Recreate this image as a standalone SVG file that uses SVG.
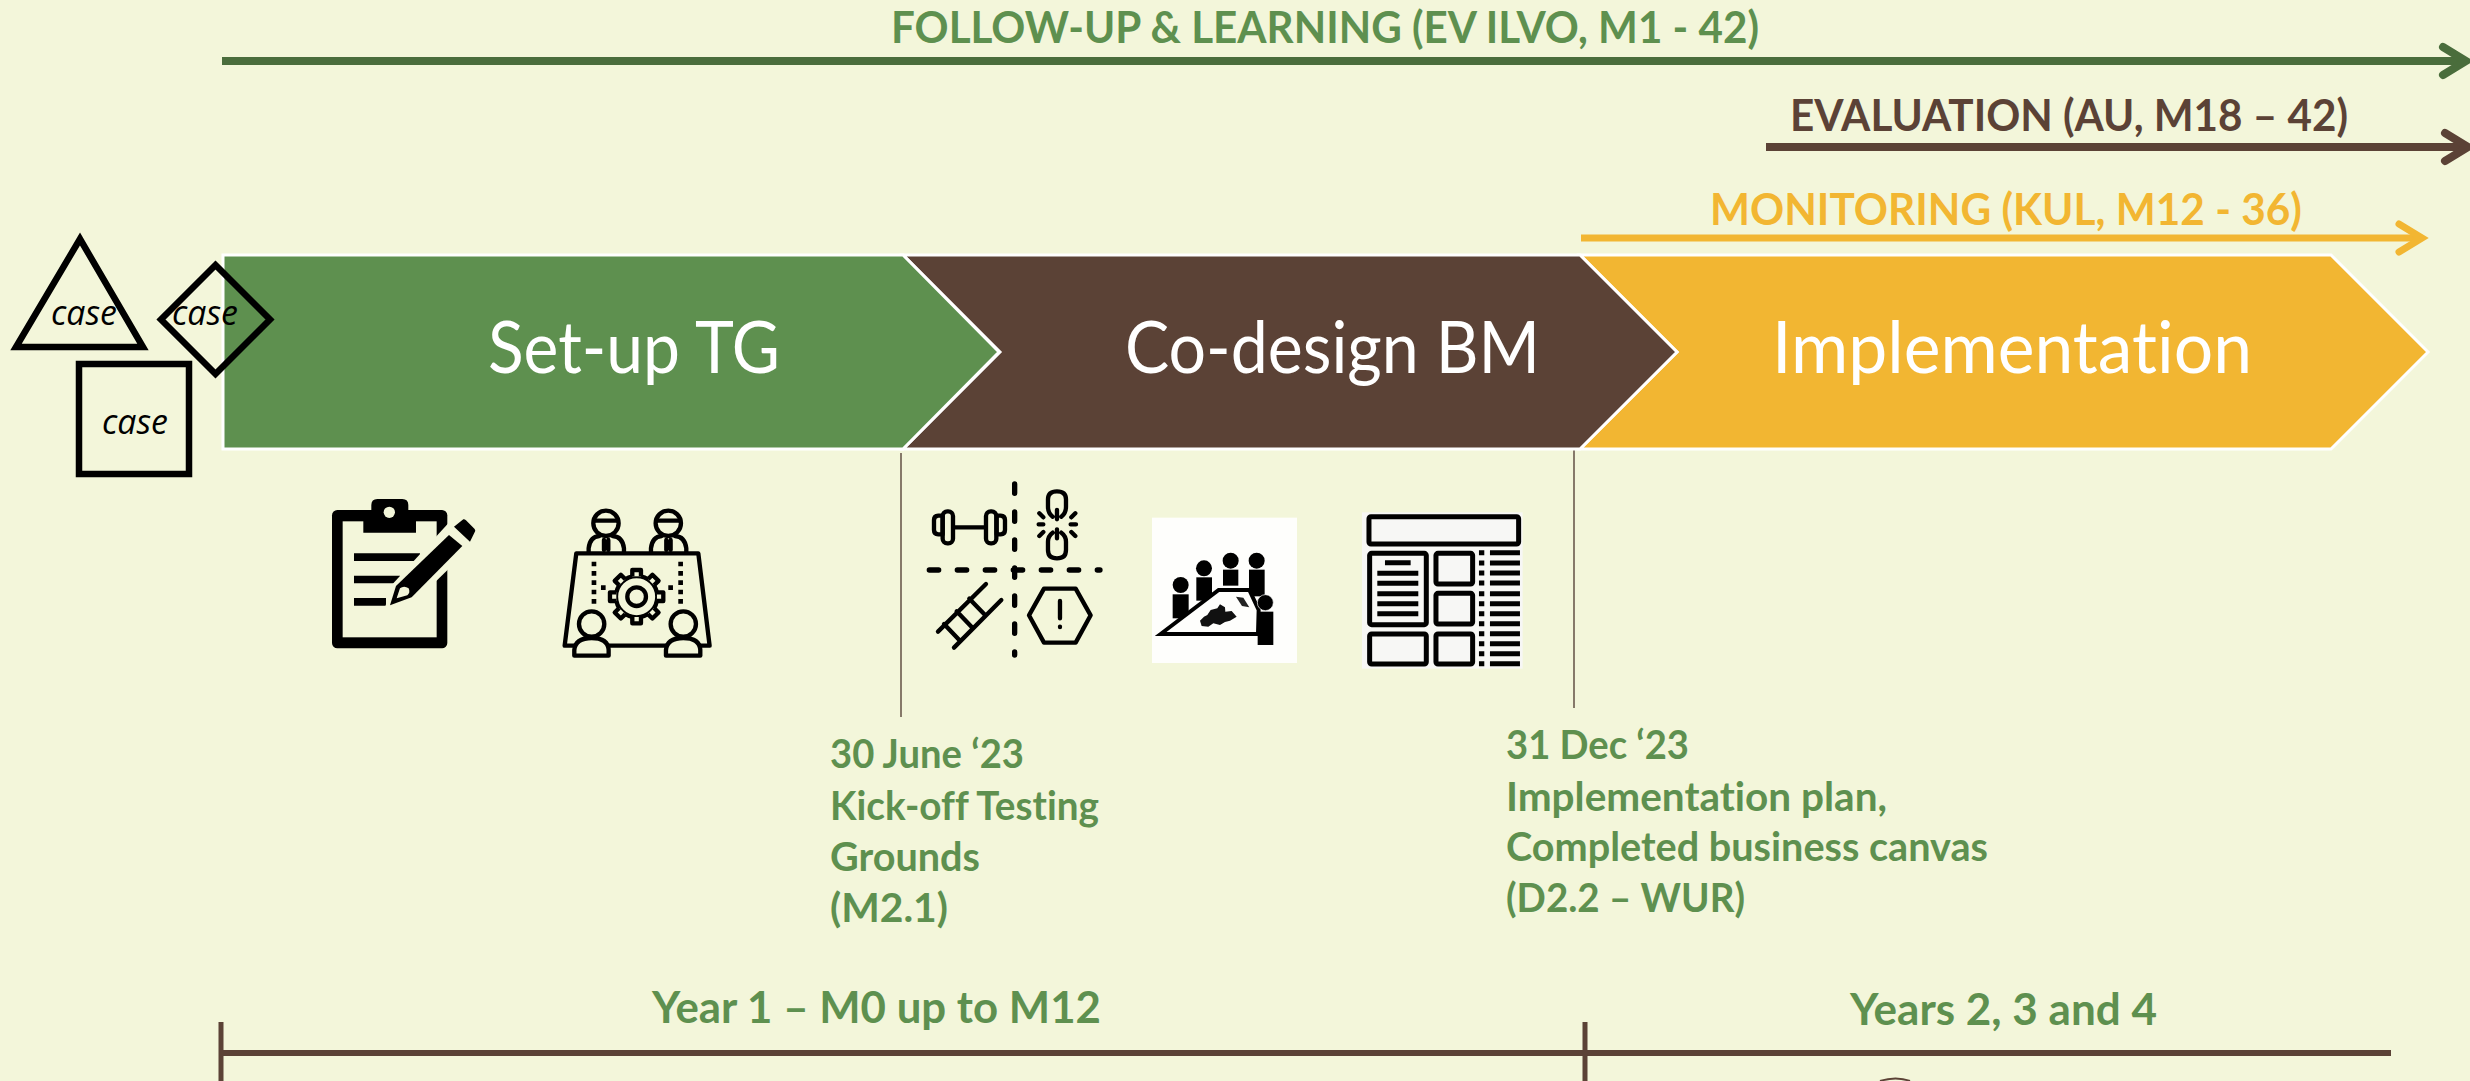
<svg xmlns="http://www.w3.org/2000/svg" xmlns:xlink="http://www.w3.org/1999/xlink" width="2470" height="1081" viewBox="0 0 2470 1081">
<style>
text{font-family:Lato,"Liberation Sans",sans-serif;font-variant-ligatures:none}
.b{font-weight:700;font-size:44px}
.g{fill:#5E904F}
.d{font-weight:700;font-size:40px;fill:#5E904F}
.c{font-size:72px;fill:#fff}
.k{font-family:"Open Sans","Liberation Sans",sans-serif;font-style:italic;font-size:34px;fill:#000}
.s{fill:none;stroke:#000;stroke-width:6.500}
.chev{stroke:#fff;stroke-width:3}
.ln{fill:none;stroke:#000;stroke-width:13;stroke-linecap:round;stroke-linejoin:round}
.bgf{fill:#F3F6DA}
.hd{fill:none;stroke-linecap:round;stroke-linejoin:miter}
</style>
<defs>
<marker id="hG" markerUnits="userSpaceOnUse" viewBox="0 0 40 40" markerWidth="40" markerHeight="40" refX="28" refY="20" orient="auto" overflow="visible"><path class="hd" d="M5,6 L28,20 L5,34" stroke="#4A6D3C" stroke-width="8"/></marker>
<marker id="hB" markerUnits="userSpaceOnUse" viewBox="0 0 40 40" markerWidth="40" markerHeight="40" refX="28" refY="20" orient="auto" overflow="visible"><path class="hd" d="M5,6 L28,20 L5,34" stroke="#5B4236" stroke-width="8"/></marker>
<marker id="hY" markerUnits="userSpaceOnUse" viewBox="0 0 40 40" markerWidth="40" markerHeight="40" refX="28" refY="20" orient="auto" overflow="visible"><path class="hd" d="M5,6 L28,20 L5,34" stroke="#F2B632" stroke-width="7"/></marker>
<path id="tooth" d="M-13,-61 L-13,-80 H13 V-61" fill="#F3F6DA" stroke="#000" stroke-width="13" stroke-linejoin="round"/>
</defs>
<rect width="2470" height="1081" fill="#F3F6DA"/>

<g id="connectors">
<path d="M222,61H2466" fill="none" stroke="#4A6D3C" stroke-width="8" marker-end="url(#hG)"/>
<path d="M1766,147H2468" fill="none" stroke="#5B4236" stroke-width="8" marker-end="url(#hB)"/>
<path d="M1581,238H2422" fill="none" stroke="#F2B632" stroke-width="7" marker-end="url(#hY)"/>
<path d="M901,453V717M1574,447V708" fill="none" stroke="#6B5A4E" stroke-width="1.6"/>
<path d="M220,1053H2391" fill="none" stroke="#5B4236" stroke-width="6"/>
<path d="M221,1022V1081M1585,1022V1081" fill="none" stroke="#5B4236" stroke-width="5"/>
<path d="M1880,1081Q1896,1076 1910,1081" fill="none" stroke="#5B4236" stroke-width="2"/>
</g>

<g id="node-implementation">
<path class="chev" fill="#F2B632" d="M1580,255H2331L2428,352L2331,449H1580L1677,352Z"/>
<text class="c" x="1772" y="373" textLength="480" lengthAdjust="spacingAndGlyphs">Implementation</text>
</g>
<g id="node-codesign">
<path class="chev" fill="#5B4236" d="M903,255H1580L1677,352L1580,449H903L1000,352Z"/>
<text class="c" x="1125" y="373" textLength="415" lengthAdjust="spacingAndGlyphs">Co-design BM</text>
</g>
<g id="node-setup">
<path class="chev" fill="#5E904F" d="M223,255H903L999,352L903,449H223Z"/>
<text class="c" x="488" y="373" textLength="292" lengthAdjust="spacingAndGlyphs">Set-up TG</text>
</g>

<g id="label-follow-up"><text class="b g" x="891" y="43" textLength="868" lengthAdjust="spacingAndGlyphs">FOLLOW-UP &amp; LEARNING (EV ILVO, M1 - 42)</text></g>
<g id="label-evaluation"><text class="b" fill="#5B4236" x="1790" y="131" textLength="558" lengthAdjust="spacingAndGlyphs">EVALUATION (AU, M18 – 42)</text></g>
<g id="label-monitoring"><text class="b" fill="#F2B632" x="1710" y="225" textLength="592" lengthAdjust="spacingAndGlyphs">MONITORING (KUL, M12 - 36)</text></g>

<g id="node-case-triangle">
<path class="s" d="M80,239L16,347H143Z" stroke-linejoin="miter"/>
<text class="k" x="51" y="325" textLength="66" lengthAdjust="spacingAndGlyphs">case</text>
</g>
<g id="node-case-diamond">
<path class="s" d="M215.500,265L270,319.500L215.500,374L161,319.500Z"/>
<text class="k" x="172" y="325" textLength="66" lengthAdjust="spacingAndGlyphs">case</text>
</g>
<g id="node-case-square">
<rect class="s" x="79" y="364" width="110" height="110"/>
<text class="k" x="102" y="434" textLength="66" lengthAdjust="spacingAndGlyphs">case</text>
</g>

<g id="icon-clipboard" transform="translate(300,480) scale(.3333)">
<rect x="96" y="90" width="346" height="415" rx="16" fill="#000"/>
<rect x="128" y="124" width="282" height="348" class="bgf"/>
<path d="M190,90H214V75Q214,57 232,57H307Q325,57 325,75V90H348V158H190Z" fill="#000"/>
<circle cx="268" cy="97" r="17" class="bgf"/>
<path d="M162,220H360V243H162ZM162,287H300V310H162ZM162,354H258V377H162Z" fill="#000"/>
<path class="bgf" d="M254,385L280,310L445,130V268L348,362Z"/>
<path d="M270,376L288,318L447,165L487,198L335,352Z" fill="#000"/>
<path d="M490,118Q494,117 498,121L524,147Q528,152 524,157L510,185L462,140Z" fill="#000"/>
<path d="M290,355L300,325Q312,316 326,325Q332,338 322,346Z" class="bgf"/>
</g>

<g id="icon-meeting" transform="translate(300,480) scale(.3333)">
<path class="ln" d="M829,220H1195L1229,497H794Z"/>
<circle class="ln" cx="918" cy="130" r="38"/><circle class="ln" cx="1105" cy="130" r="38"/>
<path class="ln" d="M885,122H950M1072,122H1137M866,215V205Q870,170 898,168M972,215V205Q968,170 938,168M1053,215V205Q1057,170 1085,168M1159,215V205Q1155,170 1125,168M912,180V210M925,180V210M1099,180V210M1112,180V210"/>
<path d="M882,245V375M1142,245V375M903,323H918M1105,323H1120" fill="none" stroke="#000" stroke-width="14" stroke-dasharray="14 14"/>
<g transform="translate(1010,350)">
<circle r="62" fill="#F3F6DA" stroke="#000" stroke-width="13"/>
<use xlink:href="#tooth" href="#tooth"/><use xlink:href="#tooth" href="#tooth" transform="rotate(45)"/><use xlink:href="#tooth" href="#tooth" transform="rotate(90)"/><use xlink:href="#tooth" href="#tooth" transform="rotate(135)"/><use xlink:href="#tooth" href="#tooth" transform="rotate(180)"/><use xlink:href="#tooth" href="#tooth" transform="rotate(225)"/><use xlink:href="#tooth" href="#tooth" transform="rotate(270)"/><use xlink:href="#tooth" href="#tooth" transform="rotate(315)"/>
<circle r="28" fill="none" stroke="#000" stroke-width="13"/>
</g>
<circle class="ln" cx="875" cy="432" r="38" style="fill:#F3F6DA"/><circle class="ln" cx="1150" cy="432" r="38" style="fill:#F3F6DA"/>
<path class="ln" style="fill:#F3F6DA" d="M823,527V510Q826,474 875,474Q924,474 926,510V527Z"/>
<path class="ln" style="fill:#F3F6DA" d="M1098,527V510Q1101,474 1150,474Q1199,474 1201,510V527Z"/>
</g>

<g id="icon-swot" transform="translate(900,470) scale(.3333)">
<path d="M344,42V555M88,300H600" fill="none" stroke="#000" stroke-width="16" stroke-linecap="round" stroke-dasharray="28 56"/>
<path class="ln" d="M160,172H256M102,150Q102,138 115,137H128V193H115Q102,192 102,180ZM315,150Q315,138 302,137H290V193H302Q315,192 315,180Z"/>
<rect class="ln" x="128" y="124" width="31" height="96" rx="14"/><rect class="ln" x="258" y="124" width="31" height="96" rx="14"/>
<path class="ln" d="M458,140Q444,130 444,110V88Q444,64 471,64Q498,64 498,88V110Q498,130 484,140M471,120V148M458,188Q444,198 444,215V240Q444,265 471,265Q498,265 498,240V215Q498,198 484,188M471,178V205M416,163H430M512,163H528M418,130L430,142M526,130L514,142M418,198L430,186M526,198L514,186"/>
<path class="ln" d="M114,485L258,342M162,533L304,390M132,462L180,512M170,424L218,474M208,386L256,436"/>
<path class="ln" d="M387,436L432,356H527L572,436L527,518H432Z"/>
<path class="ln" d="M480,393V445M480,470V471"/>
</g>

<g id="icon-puzzle" transform="translate(1130,500) scale(.3333)">
<rect x="66" y="53" width="435" height="436" fill="#FEFEFC"/>
<circle cx="152" cy="255" r="24"/><rect x="128" y="283" width="48" height="72"/>
<circle cx="222" cy="205" r="24"/><rect x="199" y="232" width="47" height="70"/>
<circle cx="302" cy="182" r="24"/><rect x="279" y="209" width="46" height="48"/>
<circle cx="380" cy="182" r="24"/><rect x="357" y="209" width="47" height="80"/>
<path d="M92,402L266,270H358L386,330L384,402Z" fill="#FEFEFC" stroke="#000" stroke-width="12" stroke-linejoin="miter"/>
<path d="M318,290L340,293L358,322L336,318Z" fill="#222"/>
<path d="M210,362L222,350L232,345L242,330L262,325L270,313L285,322L286,335L305,333L320,350L300,362L285,366L270,375L250,370L235,380L215,378Z" fill="#111"/>
<circle cx="406" cy="308" r="24" stroke="#FEFEFC" stroke-width="2"/><rect x="383" y="335" width="47" height="100"/>
</g>

<g id="icon-canvas" transform="translate(1130,500) scale(.3333)">
<rect x="696" y="37" width="482" height="469" fill="#F7F7F5"/>
<g fill="none" stroke="#000" stroke-width="15">
<rect x="717" y="50" width="449" height="82" rx="6"/>
<rect x="719" y="160" width="170" height="214" rx="6"/>
<rect x="918" y="160" width="110" height="92" rx="6"/>
<rect x="918" y="280" width="110" height="92" rx="6"/>
<rect x="719" y="402" width="170" height="90" rx="6"/>
<rect x="918" y="402" width="110" height="90" rx="6"/>
<path stroke-width="15" d="M765,188H842M742,220H865M742,250H865M742,281H865M742,311H865M742,341H865"/>
<path stroke-width="15" d="M1080,158H1170M1080,189H1170M1080,219H1170M1080,249H1170M1080,281H1170M1080,311H1170M1080,341H1170M1080,371H1170M1080,401H1170M1080,431H1170M1080,461H1170M1080,491H1170"/>
<path stroke-width="15" d="M1047,158H1063M1047,189H1063M1047,219H1063M1047,249H1063M1047,281H1063M1047,311H1063M1047,341H1063M1047,371H1063M1047,401H1063M1047,431H1063M1047,461H1063M1047,491H1063"/>
</g>
</g>

<g id="label-m21">
<text class="d" x="830" y="768" textLength="194" lengthAdjust="spacingAndGlyphs">30 June ‘23</text>
<text class="d" x="830" y="820" textLength="269" lengthAdjust="spacingAndGlyphs">Kick-off Testing</text>
<text class="d" x="830" y="871" textLength="150" lengthAdjust="spacingAndGlyphs">Grounds</text>
<text class="d" x="830" y="922" textLength="118" lengthAdjust="spacingAndGlyphs">(M2.1)</text>
</g>
<g id="label-d22">
<text class="d" x="1506" y="759" textLength="183" lengthAdjust="spacingAndGlyphs">31 Dec ‘23</text>
<text class="d" x="1506" y="811" textLength="381" lengthAdjust="spacingAndGlyphs">Implementation plan,</text>
<text class="d" x="1506" y="861" textLength="482" lengthAdjust="spacingAndGlyphs">Completed business canvas</text>
<text class="d" x="1506" y="912" textLength="239" lengthAdjust="spacingAndGlyphs">(D2.2 – WUR)</text>
</g>
<g id="label-year1"><text class="b g" x="652" y="1023" textLength="449" lengthAdjust="spacingAndGlyphs">Year 1 – M0 up to M12</text></g>
<g id="label-years"><text class="b g" x="1850" y="1025" textLength="307" lengthAdjust="spacingAndGlyphs">Years 2, 3 and 4</text></g>
</svg>
